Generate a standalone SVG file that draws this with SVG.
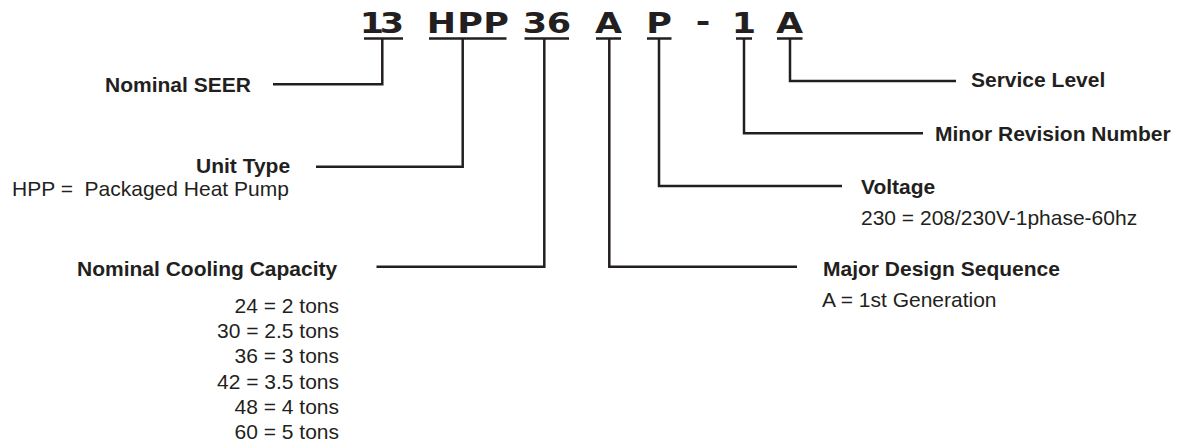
<svg xmlns="http://www.w3.org/2000/svg" width="1184" height="441" viewBox="0 0 1184 441">
<style>
.code{font-family:"DejaVu Sans","Liberation Sans",sans-serif;font-weight:bold;font-size:28px;fill:#231f20;text-anchor:middle}
.lbl{font-family:"Liberation Sans",Arial,sans-serif;font-weight:bold;font-size:21px;fill:#231f20}
.txt{font-family:"Liberation Sans",Arial,sans-serif;font-size:21px;fill:#231f20}
.end{text-anchor:end}
.ul{stroke:#231f20;stroke-width:2.4;fill:none}
.conn{fill:none;stroke:#231f20;stroke-width:2.5;stroke-linejoin:miter;stroke-linecap:butt}
</style>
<rect width="1184" height="441" fill="#ffffff"/>
<g id="model-code">
  <g transform="scale(1.25,1)">
    <text class="code" x="297.6 313.6" y="33">13</text>
    <text class="code" x="353.2 376 396.8" y="33">HPP</text>
    <text class="code" x="428 447.2" y="33">36</text>
    <text class="code" x="486.8" y="33">A</text>
    <text class="code" x="527.2" y="33">P</text>
    <text class="code" x="562.4" y="31">-</text>
    <text class="code" x="595.2" y="33">1</text>
    <text class="code" x="631.6" y="33">A</text>
  </g>
  <path class="ul" d="M364,38.5H403M429,38.5H506.5M524.5,38.5H569M596,38.5H621M647,38.5H671.5M736,38.5H752M777,38.5H802.5"/>
</g>
<g id="connectors">
  <path class="conn" d="M382.3,38.5V84.3H273"/>
  <path class="conn" d="M462.7,38.5V166.7H316"/>
  <path class="conn" d="M544.3,38.5V266.7H376.5"/>
  <path class="conn" d="M609.3,38.5V266.7H797"/>
  <path class="conn" d="M659,38.5V186H842"/>
  <path class="conn" d="M744,38.5V133.3H923"/>
  <path class="conn" d="M790,38.5V81H956"/>
</g>
<g id="nominal-seer">
  <text class="lbl" x="105" y="92">Nominal SEER</text>
</g>
<g id="unit-type">
  <text class="lbl" x="196" y="173">Unit Type</text>
  <text class="txt" x="12" y="196" xml:space="preserve">HPP =  Packaged Heat Pump</text>
</g>
<g id="nominal-cooling-capacity">
  <text class="lbl" x="77" y="276">Nominal Cooling Capacity</text>
  <text class="txt end" x="339" y="313">24 = 2 tons</text>
  <text class="txt end" x="339" y="338.2">30 = 2.5 tons</text>
  <text class="txt end" x="339" y="363.4">36 = 3 tons</text>
  <text class="txt end" x="339" y="388.6">42 = 3.5 tons</text>
  <text class="txt end" x="339" y="413.8">48 = 4 tons</text>
  <text class="txt end" x="339" y="439">60 = 5 tons</text>
</g>
<g id="service-level">
  <text class="lbl" x="971" y="87">Service Level</text>
</g>
<g id="minor-revision-number">
  <text class="lbl" x="935" y="141">Minor Revision Number</text>
</g>
<g id="voltage">
  <text class="lbl" x="861" y="194">Voltage</text>
  <text class="txt" x="861" y="225">230 = 208/230V-1phase-60hz</text>
</g>
<g id="major-design-sequence">
  <text class="lbl" x="823" y="275.5">Major Design Sequence</text>
  <text class="txt" x="822" y="307">A = 1st Generation</text>
</g>
</svg>
